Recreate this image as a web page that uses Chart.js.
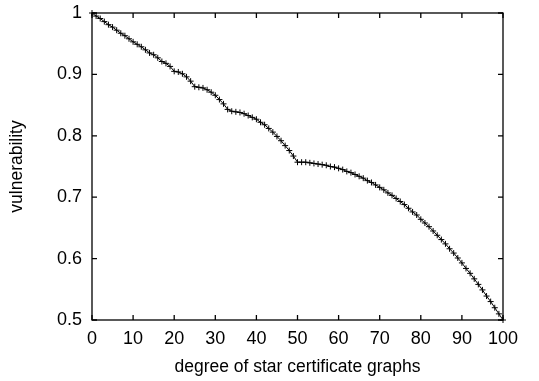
<!DOCTYPE html>
<html><head><meta charset="utf-8">
<script src="https://cdn.jsdelivr.net/npm/chart.js@4"></script>
<style>html,body{margin:0;padding:0;background:#fff}#c{display:block}</style>
</head><body>
<canvas id="c" width="539" height="381"></canvas>
<script>
const degrees = [0,1,2,3,4,5,6,7,8,9,10,11,12,13,14,15,16,17,18,19,20,21,22,23,24,25,26,27,28,29,30,31,32,33,34,35,36,37,38,39,40,41,42,43,44,45,46,47,48,49,50,51,52,53,54,55,56,57,58,59,60,61,62,63,64,65,66,67,68,69,70,71,72,73,74,75,76,77,78,79,80,81,82,83,84,85,86,87,88,89,90,91,92,93,94,95,96,97,98,99,100];
const vulnerability = [1.000,0.995,0.991,0.986,0.981,0.977,0.972,0.967,0.963,0.958,
 0.953,0.949,0.945,0.940,0.935,0.932,0.927,0.921,0.918,0.913,
 0.905,0.904,0.901,0.896,0.889,0.880,0.879,0.878,0.875,0.871,
 0.866,0.859,0.852,0.843,0.840,0.839,0.838,0.836,0.833,0.830,
 0.827,0.822,0.818,0.812,0.806,0.799,0.792,0.784,0.776,0.767,
 0.757,0.757,0.757,0.756,0.755,0.754,0.753,0.752,0.750,0.749,
 0.747,0.745,0.742,0.740,0.737,0.734,0.731,0.727,0.724,0.720,
 0.716,0.712,0.707,0.703,0.698,0.693,0.688,0.682,0.676,0.671,
 0.664,0.658,0.652,0.645,0.638,0.631,0.624,0.616,0.609,0.601,
 0.593,0.584,0.576,0.567,0.558,0.549,0.539,0.530,0.520,0.510,0.500];
const xTicks = [0,10,20,30,40,50,60,70,80,90,100];
const xTickLabels = ['0','10','20','30','40','50','60','70','80','90','100'];
const yTicks = [0.5,0.6,0.7,0.8,0.9,1];
const yTickLabels = ['0.5','0.6','0.7','0.8','0.9','1'];
const xTitle = 'degree of star certificate graphs';
const yTitle = 'vulnerability';

const FONT = {family: '"Liberation Sans", Arial, Helvetica, sans-serif', size: 18};
const TITLE_FONT = {family: '"Liberation Sans", Arial, Helvetica, sans-serif', size: 17.5};

const framePlugin = {
  id: 'frame',
  beforeDatasetsDraw(chart) {
    const {ctx, chartArea: a, scales: {x, y}} = chart;
    ctx.save();
    ctx.strokeStyle = '#000';
    ctx.lineWidth = 1.3;
    ctx.strokeRect(a.left, a.top, a.right - a.left, a.bottom - a.top);
    const L = 5;
    ctx.beginPath();
    xTicks.forEach(v => {
      const px = x.getPixelForValue(v);
      ctx.moveTo(px, a.bottom); ctx.lineTo(px, a.bottom - L);
      ctx.moveTo(px, a.top); ctx.lineTo(px, a.top + L);
    });
    yTicks.forEach(v => {
      const py = y.getPixelForValue(v);
      ctx.moveTo(a.left, py); ctx.lineTo(a.left + L, py);
      ctx.moveTo(a.right, py); ctx.lineTo(a.right - L, py);
    });
    ctx.stroke();
    ctx.restore();
  }
};

new Chart(document.getElementById('c'), {
  type: 'line',
  data: {
    datasets: [{
      data: degrees.map((d, i) => ({x: d, y: vulnerability[i]})),
      borderColor: '#000',
      borderWidth: 1,
      pointStyle: 'cross',
      pointRadius: 3,
      pointBorderColor: '#000',
      pointBorderWidth: 1,
      tension: 0,
      clip: false
    }]
  },
  options: {
    responsive: false,
    animation: false,
    devicePixelRatio: 1,
    layout: {padding: {left: 0, right: 36, top: 13, bottom: 0}},
    plugins: {legend: {display: false}, tooltip: {enabled: false}},
    scales: {
      x: {
        type: 'linear', min: 0, max: 100,
        afterBuildTicks: s => { s.ticks = xTicks.map(v => ({value: v})); },
        afterFit: s => { s.height = 61; s.paddingLeft = 0; s.paddingRight = 0; },
        grid: {display: false, drawTicks: false, tickLength: 0}, border: {display: false},
        ticks: {font: FONT, color: '#000', padding: 8, maxRotation: 0,
          callback: (v) => xTickLabels[xTicks.indexOf(v)]},
        title: {display: true, text: xTitle, font: TITLE_FONT, color: '#000', padding: {top: 0, bottom: 3}}
      },
      y: {
        type: 'linear', min: 0.5, max: 1,
        afterBuildTicks: s => { s.ticks = yTicks.map(v => ({value: v})); },
        afterFit: s => { s.width = 92; s.paddingTop = 0; s.paddingBottom = 0; },
        grid: {display: false, drawTicks: false, tickLength: 0}, border: {display: false},
        ticks: {font: FONT, color: '#000', padding: 10,
          callback: (v) => { const i = yTicks.findIndex(t => Math.abs(t - v) < 1e-9); return i >= 0 ? yTickLabels[i] : ''; }},
        title: {display: true, text: yTitle, font: TITLE_FONT, color: '#000', padding: {top: 7, bottom: 0}}
      }
    }
  },
  plugins: [framePlugin]
});
</script>
</body></html>
